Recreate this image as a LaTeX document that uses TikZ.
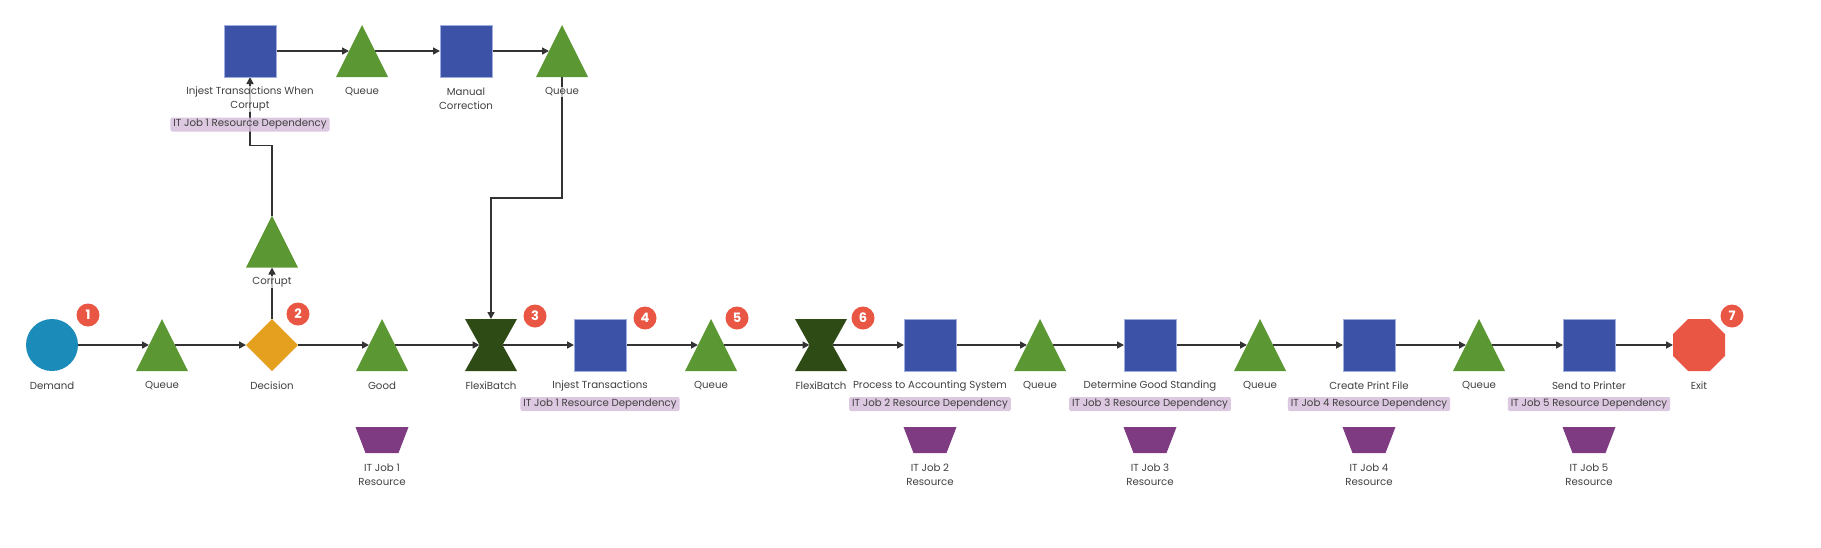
\documentclass[tikz,border=0pt]{standalone}
\usepackage{fontspec}
\setmainfont{Poppins}
\usetikzlibrary{arrows.meta,calc,shapes.geometric}
\definecolor{cDem}{HTML}{1B8BBA}
\definecolor{cQ}{HTML}{5B9833}
\definecolor{cDec}{HTML}{E5A020}
\definecolor{cFB}{HTML}{2E4A15}
\definecolor{cP}{HTML}{3B52A6}
\definecolor{cPb}{HTML}{A0AEDD}
\definecolor{cRes}{HTML}{7E3B82}
\definecolor{cEx}{HTML}{EA5644}
\definecolor{cDep}{HTML}{D6BEDA}
\definecolor{cTxt}{HTML}{404040}
\definecolor{cArr}{HTML}{333333}
\pgfdeclarelayer{bg}
\pgfsetlayers{bg,main}
\newcommand\qshape[2]{%
  \node[anc, minimum width=26pt, minimum height=52pt] (#1) at (#2) {};
  \fill[cQ] (#1.center) ++(-26,26) -- ++(52,0) -- ++(-26,-52) -- cycle;}
\newcommand\fbshape[2]{%
  \node[anc, minimum width=23pt, minimum height=52pt] (#1) at (#2) {};
  \fill[cFB] (#1.center) ++(-26,-26) -- ++(52,0) -- ++(-14.5,26) -- ++(14.5,26) -- ++(-52,0) -- ++(14.5,-26) -- cycle;}
\newcommand\resshape[2]{%
  \node[anc, minimum width=53pt, minimum height=26pt] (#1) at (#2) {};
  \fill[cRes] (#1.center) ++(-26.5,-13) -- ++(53,0) -- ++(-10,26) -- ++(-33,0) -- cycle;}
\begin{document}
\begin{tikzpicture}[x=1pt,y=-1pt,
  anc/.style={rectangle, draw=none, inner sep=0pt, outer sep=0pt},
  proc/.style={rectangle, fill=cP, draw=cPb, line width=1pt, minimum size=52pt, inner sep=0pt, outer sep=0pt},
  lbl/.style={font=\fontsize{10.2}{14}\selectfont, text=cTxt, align=center, inner sep=1pt, fill=white, fill opacity=0.7, text opacity=1},
  dep/.style={font=\fontsize{10.2}{14}\selectfont, text=cTxt, fill=cDep, fill opacity=0.85, text opacity=1, rounded corners=2pt, inner xsep=3pt, inner ysep=1.5pt, minimum height=14pt},
  badge/.style={circle, fill=cEx, text=white, font=\fontsize{13}{13}\selectfont\bfseries, minimum size=23pt, inner sep=0pt},
  arr/.style={draw=cArr, line width=1.6pt, -{Triangle[length=7pt,width=7pt]}}
]
\useasboundingbox (0,0) rectangle (1821,547);

% ---- main row shapes
\node[circle, fill=cDem, minimum size=52pt, inner sep=0pt, outer sep=0pt] (dem) at (52,345) {};
\qshape{q1}{162,345}
\node[diamond, fill=cDec, minimum width=52pt, minimum height=52pt, inner sep=0pt, outer sep=0pt] (dec) at (272,345) {};
\qshape{good}{382,345}
\fbshape{fb1}{491,345}
\node[proc] (inj) at (600,345) {};
\qshape{q2}{711,345}
\fbshape{fb2}{821,345}
\node[proc] (pas) at (930,345) {};
\qshape{q3}{1040,345}
\node[proc] (dgs) at (1150,345) {};
\qshape{q4}{1260,345}
\node[proc] (cpf) at (1369,345) {};
\qshape{q5}{1479,345}
\node[proc] (stp) at (1589,345) {};
\node[regular polygon, regular polygon sides=8, fill=cEx, minimum size=56.3pt, inner sep=0pt, outer sep=0pt] (exit) at (1699,345) {};

% ---- upper branch
\qshape{corr}{272,241.5}
\node[proc] (iwc) at (250,51) {};
\qshape{tq1}{362,51}
\node[proc] (mc) at (466,51) {};
\qshape{tq2}{562,51}

% ---- resources
\resshape{r1}{382,440}
\resshape{r2}{930,440}
\resshape{r3}{1150,440}
\resshape{r4}{1369,440}
\resshape{r5}{1589,440}

% ---- connectors
\begin{pgfonlayer}{bg}
\draw[arr] (dem) -- (q1.west);
\draw[arr] (q1.east) -- (dec.west);
\draw[arr] (dec.east) -- (good.west);
\draw[arr] (good.east) -- (fb1.west);
\draw[arr] (fb1.east) -- (inj.west);
\draw[arr] (inj.east) -- (q2.west);
\draw[arr] (q2.east) -- (fb2.west);
\draw[arr] (fb2.east) -- (pas.west);
\draw[arr] (pas.east) -- (q3.west);
\draw[arr] (q3.east) -- (dgs.west);
\draw[arr] (dgs.east) -- (q4.west);
\draw[arr] (q4.east) -- (cpf.west);
\draw[arr] (cpf.east) -- (q5.west);
\draw[arr] (q5.east) -- (stp.west);
\draw[arr] (stp.east) -- (exit.west);
\draw[arr] (dec.north) -- (corr.south);
\draw[arr] (corr.north) -- ++(0,-70) -| (iwc.south);
\draw[arr] (iwc.east) -- (tq1.west);
\draw[arr] (tq1.east) -- (mc.west);
\draw[arr] (mc.east) -- (tq2.west);
\draw[arr] (tq2.south) -- ++(0,121) -| (fb1.north);
\end{pgfonlayer}

% ---- labels
\node[lbl] (ldem) at (52,386) {Demand};
\node[lbl] (lq1) at (162,386) {Queue};
\node[lbl] (ldec) at (272,386) {Decision};
\node[lbl] (lgood) at (382,386) {Good};
\node[lbl] (lfb1) at (491,386) {FlexiBatch};
\node[lbl] (linj) at (600,386) {Injest Transactions};
\node[lbl] (lq2) at (711,386) {Queue};
\node[lbl] (lfb2) at (821,386) {FlexiBatch};
\node[lbl] (lpas) at (930,386) {Process to Accounting System};
\node[lbl] (lq3) at (1040,386) {Queue};
\node[lbl] (ldgs) at (1150,386) {Determine Good Standing};
\node[lbl] (lq4) at (1260,386) {Queue};
\node[lbl] (lcpf) at (1369,386) {Create Print File};
\node[lbl] (lq5) at (1479,386) {Queue};
\node[lbl] (lstp) at (1589,386) {Send to Printer};
\node[lbl] (lexit) at (1699,386) {Exit};
\node[lbl] (lcorr) at (272,282) {Corrupt};
\node[lbl] (liwc) at (250,99) {Injest Transactions When\\Corrupt};
\node[lbl] (ltq1) at (362,92) {Queue};
\node[lbl] (lmc) at (466,99) {Manual\\Correction};
\node[lbl] (ltq2) at (562,92) {Queue};
\node[lbl] (lr1) at (382,475) {IT Job 1\\Resource};
\node[lbl] (lr2) at (930,475) {IT Job 2\\Resource};
\node[lbl] (lr3) at (1150,475) {IT Job 3\\Resource};
\node[lbl] (lr4) at (1369,475) {IT Job 4\\Resource};
\node[lbl] (lr5) at (1589,475) {IT Job 5\\Resource};

% ---- dependency tags
\node[dep] (diwc) at (250,124.5) {IT Job 1 Resource Dependency};
\node[dep] (dinj) at (600,404) {IT Job 1 Resource Dependency};
\node[dep] (dpas) at (930,404) {IT Job 2 Resource Dependency};
\node[dep] (ddgs) at (1150,404) {IT Job 3 Resource Dependency};
\node[dep] (dcpf) at (1369,404) {IT Job 4 Resource Dependency};
\node[dep] (dstp) at (1589,404) {IT Job 5 Resource Dependency};

% ---- badges
\node[badge] (b1) at (88,315) {1};
\node[badge] (b2) at (298,314) {2};
\node[badge] (b3) at (535,316) {3};
\node[badge] (b4) at (645,318) {4};
\node[badge] (b5) at (737,318) {5};
\node[badge] (b6) at (863,318) {6};
\node[badge] (b7) at (1732,316) {7};
\end{tikzpicture}
\end{document}
